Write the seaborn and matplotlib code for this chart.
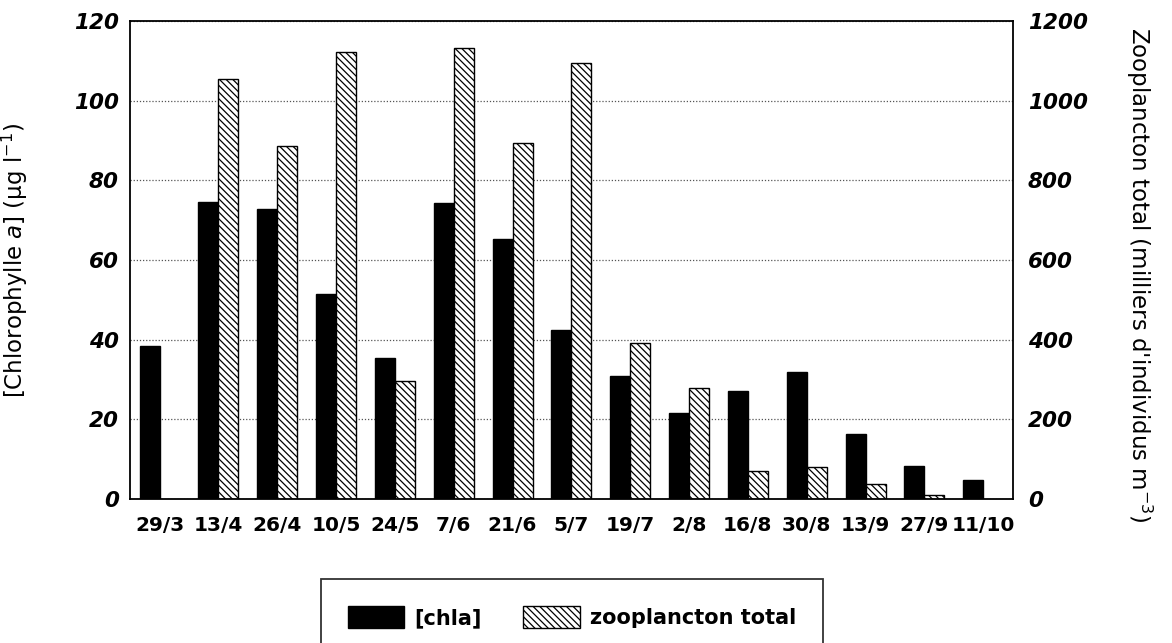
import pandas as pd
import matplotlib
matplotlib.use('Agg')
import matplotlib.pyplot as plt
import seaborn as sns
from matplotlib.patches import Patch

# Data
dates = ['29/3', '13/4', '26/4', '10/5', '24/5', '7/6', '21/6', '5/7',
         '19/7', '2/8', '16/8', '30/8', '13/9', '27/9', '11/10']
chla = [38.3, 74.5, 72.8, 51.5, 35.3, 74.3, 65.2, 42.5,
        31.0, 21.5, 27.2, 31.8, 16.3, 8.3, 4.8]          # µg/l
zoo = [None, 1055, 887, 1123, 296, 1133, 895, 1095,
       392, 279, 70, 80, 37, 9, None]                      # milliers d'ind./m3

sns.set_style('white')
plt.rcParams['font.family'] = ['DejaVu Sans']
plt.rcParams['mathtext.fontset'] = 'dejavusans'
plt.rcParams['hatch.linewidth'] = 0.9
plt.rcParams['hatch.color'] = 'black'
for key in ['text.color', 'axes.labelcolor', 'xtick.color', 'ytick.color']:
    plt.rcParams[key] = 'black'

# zooplancton drawn on the chla scale (right axis = 10x left axis)
df = pd.DataFrame({
    'date': dates * 2,
    'serie': ['[chla]'] * len(dates) + ['zooplancton total'] * len(dates),
    'valeur': chla + [z / 10 if z is not None else float('nan') for z in zoo],
})

fig = plt.figure(figsize=(11.72, 6.43), dpi=100)
ax = fig.add_axes([0.111, 0.224, 0.753, 0.743])

sns.barplot(data=df, x='date', y='valeur', hue='serie',
            palette=['black', 'white'], saturation=1, width=0.68,
            edgecolor='black', linewidth=1, legend=False, ax=ax)
for bar in ax.containers[1]:
    bar.set_hatch('\\\\\\\\\\')

ax.set_ylim(0, 120)
ax.set_xlim(-0.5, len(dates) - 0.5)
ax.set_yticks(range(0, 121, 20))
ax.yaxis.grid(True, linestyle=(0, (1, 1.5)), color='#555555', linewidth=0.9)
ax.set_axisbelow(True)
for s in ax.spines.values():
    s.set_color('black')
    s.set_linewidth(1.3)

ax.tick_params(axis='y', length=0, pad=8, labelsize=15.5)
ax.tick_params(axis='x', length=0, pad=12, labelsize=14.5)
for lab in ax.get_yticklabels():
    lab.set_fontstyle('italic')
    lab.set_fontweight('bold')
for lab in ax.get_xticklabels():
    lab.set_fontweight('bold')

ax.set_xlabel('')
ax.set_ylabel(r'[Chlorophylle $\mathit{a}$] (µg l$^{-1}$)', fontsize=16.5)
ax.yaxis.set_label_coords(-0.113, 0.5)

sec = ax.secondary_yaxis('right', functions=(lambda v: v * 10, lambda v: v / 10))
sec.set_yticks(range(0, 1201, 200))
sec.tick_params(length=0, pad=11, labelsize=15.5, colors='black')
for lab in sec.get_yticklabels():
    lab.set_fontstyle('italic')
    lab.set_fontweight('bold')
sec.spines['right'].set_visible(False)

fig.text(0.972, 0.572, r"Zooplancton total (milliers d'individus m$^{-3}$)",
         fontsize=16.5, rotation=270, ha='center', va='center')

handles = [Patch(facecolor='black', edgecolor='black'),
           Patch(facecolor='white', edgecolor='black', hatch='\\\\\\\\\\')]
leg = fig.legend(handles, ['[chla]', 'zooplancton total'], loc='center',
                 bbox_to_anchor=(0.488, 0.04), ncol=2, frameon=True,
                 fancybox=False, edgecolor='black', borderpad=1.3,
                 handlelength=2.7, handleheight=1.25, handletextpad=0.5,
                 columnspacing=2.0, prop={'weight': 'bold', 'size': 15})
leg.get_frame().set_linewidth(1.3)
leg.get_frame().set_boxstyle('square', pad=0)

fig.savefig('out.png', dpi=100, facecolor='white')
